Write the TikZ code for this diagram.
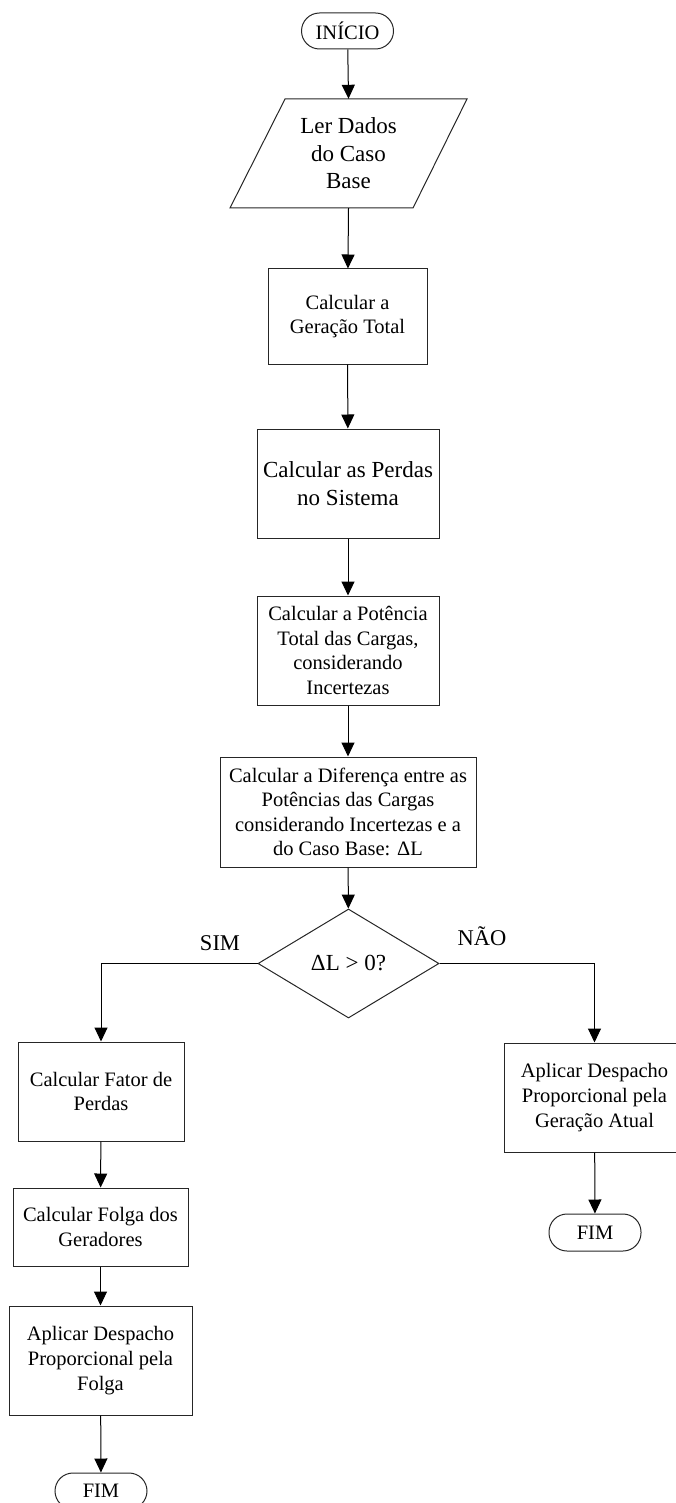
\documentclass[tikz,border=0pt]{standalone}
\usepackage{fontspec}
\setmainfont{Liberation Serif}
\usetikzlibrary{arrows.meta,shapes.geometric}
\tikzset{
  box/.style={draw=black!85, line width=1pt, rectangle, inner sep=0pt, align=center,
              font=\fontsize{20.5}{24.6}\selectfont},
  bigbox/.style={box, font=\fontsize{23}{27.6}\selectfont},
  term/.style={draw=black!85, line width=1pt, rectangle, rounded corners=18pt, inner sep=0pt,
               minimum width=92pt, minimum height=36pt, font=\fontsize{20.5}{24.6}\selectfont},
  decision/.style={draw=black!85, line width=1pt, diamond, inner sep=0pt,
               font=\fontsize{23}{27.6}\selectfont},
  flow/.style={draw=black, line width=1pt, -{Triangle[length=14pt,width=13pt]}},
  lbl/.style={font=\fontsize{22.5}{27}\selectfont, inner sep=0pt}
}
\begin{document}
\begin{tikzpicture}[x=1pt,y=-1pt]
\useasboundingbox (0,0) rectangle (675,1503);
% nodes
\node[term] (inicio) at (347.5,31) {INÍCIO};
\node[inner sep=0pt, minimum width=128pt, minimum height=109pt, align=center,
      font=\fontsize{23}{27.5}\selectfont] (ler) at (348.5,153.5) {Ler Dados\\do Caso\\Base};
\draw[black!85, line width=1pt] (285,99) -- (467,99) -- (413,208) -- (230,208) -- cycle;
\node[box, minimum width=159pt, minimum height=95pt] (ger) at (347.5,316.5) {Calcular a\\Geração Total};
\node[bigbox, minimum width=182pt, minimum height=109pt] (perdas) at (348,483.5) {Calcular as Perdas\\no Sistema};
\node[box, minimum width=182pt, minimum height=109pt] (pot) at (348,650.5) {Calcular a Potência\\Total das Cargas,\\considerando\\Incertezas};
\node[box, minimum width=256pt, minimum height=110pt] (dif) at (348,812) {Calcular a Diferença entre as\\Potências das Cargas\\considerando Incertezas e a\\do Caso Base: ΔL};
\node[decision, minimum width=181pt, minimum height=109pt] (dec) at (348.5,963.5) {ΔL > 0?};
\node[box, minimum width=166pt, minimum height=99pt] (fator) at (101,1091.5) {Calcular Fator de\\Perdas};
\node[box, minimum width=175pt, minimum height=78pt] (folga) at (100.5,1227) {Calcular Folga dos\\Geradores};
\node[box, minimum width=183pt, minimum height=109pt] (aplf) at (100.5,1360.5) {Aplicar Despacho\\Proporcional pela\\Folga};
\node[term] (fim1) at (101,1491) {FIM};
\node[box, minimum width=181pt, minimum height=109pt] (apla) at (594.5,1097.5) {Aplicar Despacho\\Proporcional pela\\Geração Atual};
\node[term, minimum height=37pt] (fim2) at (595,1232.5) {FIM};
% labels
\node[lbl] (sim) at (220,943) {SIM};
\node[lbl] (nao) at (482,936) {NÃO};
% connectors
\draw[flow] (inicio) -- (ler.north);
\draw[flow] (ler.south) -- (ger);
\draw[flow] (ger) -- (perdas);
\draw[flow] (perdas) -- (pot);
\draw[flow] (pot) -- (dif);
\draw[flow] (dif) -- (dec);
\draw[flow] (dec.west) -| (fator.north);
\draw[flow] (dec.east) -| (apla.north);
\draw[flow] (fator) -- (folga);
\draw[flow] (folga) -- (aplf);
\draw[flow] (aplf) -- (fim1);
\draw[flow] (apla) -- (fim2);
\end{tikzpicture}
\end{document}
